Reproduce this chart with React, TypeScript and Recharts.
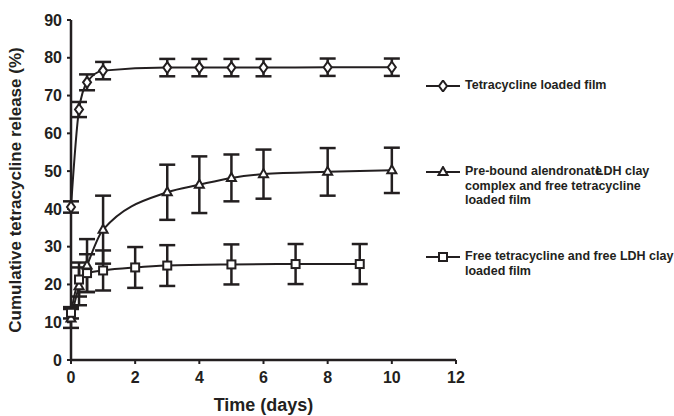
import React from "react";
import { LineChart, Line, XAxis, YAxis, ErrorBar } from "recharts";

const INK = "#231f20";

// Tetracycline loaded film
const diamondTime = [0, 0.25, 0.5, 1, 3, 4, 5, 6, 8, 10];
const diamondValue = [40.5, 66.3, 73.5, 76.6, 77.4, 77.4, 77.4, 77.4, 77.5, 77.5];
const diamondErr = [1.5, 2.0, 2.1, 2.3, 2.3, 2.3, 2.3, 2.3, 2.3, 2.3];

// Pre-bound alendronate-LDH clay complex and free tetracycline loaded film
const triangleTime = [0, 0.25, 0.5, 1, 3, 4, 5, 6, 8, 10];
const triangleValue = [11, 19.5, 25, 34.5, 44.4, 46.4, 48.2, 49.2, 49.8, 50.2];
const triangleErr = [2.5, 5, 7, 9, 7.3, 7.5, 6.2, 6.5, 6.3, 6];

// Free tetracycline and free LDH clay loaded film
const squareTime = [0, 0.25, 0.5, 1, 2, 3, 5, 7, 9];
const squareValue = [12.5, 21.3, 23, 23.7, 24.5, 25, 25.3, 25.4, 25.4];
const squareErr = [1.5, 4.5, 5, 5.3, 5.4, 5.4, 5.3, 5.3, 5.3];

const xTicks = [0, 2, 4, 6, 8, 10, 12];
const yTicks = [0, 10, 20, 30, 40, 50, 60, 70, 80, 90];

const toRows = (t: number[], v: number[], e: number[]) =>
  t.map((x, i) => ({ t: x, v: v[i], err: e[i] }));

const diamondData = toRows(diamondTime, diamondValue, diamondErr);
const triangleData = toRows(triangleTime, triangleValue, triangleErr);
const squareData = toRows(squareTime, squareValue, squareErr);

const Diamond = (p: any) => {
  const { cx, cy } = p;
  if (cx == null || cy == null) return <g />;
  return (
    <path
      d={`M${cx},${cy - 5.5} L${cx + 4},${cy} L${cx},${cy + 5.5} L${cx - 4},${cy} Z`}
      fill="#fff"
      stroke={INK}
      strokeWidth={2}
    />
  );
};

const Triangle = (p: any) => {
  const { cx, cy } = p;
  if (cx == null || cy == null) return <g />;
  return (
    <path
      d={`M${cx},${cy - 5} L${cx + 4.5},${cy + 3} L${cx - 4.5},${cy + 3} Z`}
      fill="#fff"
      stroke={INK}
      strokeWidth={2}
    />
  );
};

const Square = (p: any) => {
  const { cx, cy } = p;
  if (cx == null || cy == null) return <g />;
  return <rect x={cx - 4} y={cy - 4} width={8} height={8} fill="#fff" stroke={INK} strokeWidth={2} />;
};

const FONT = "'Liberation Sans', Arial, sans-serif";

const legendText: React.CSSProperties = {
  position: "absolute",
  left: 465,
  fontFamily: FONT,
  fontWeight: 700,
  fontSize: 12.5,
  lineHeight: "14.5px",
  color: INK,
  whiteSpace: "nowrap",
};

const LegendIcon = ({ top, kind }: { top: number; kind: "d" | "t" | "s" }) => (
  <svg style={{ position: "absolute", left: 425, top: top - 6 }} width={36} height={12}>
    <line x1={1} y1={6} x2={35} y2={6} stroke={INK} strokeWidth={2} />
    {kind === "d" && <Diamond cx={18} cy={6} />}
    {kind === "t" && <Triangle cx={18} cy={6} />}
    {kind === "s" && <Square cx={18} cy={6} />}
  </svg>
);

export default function App() {
  const tickStyle = { fill: INK, fontSize: 16, fontWeight: 700, fontFamily: FONT };
  return (
    <div style={{ position: "absolute", left: 0, top: 0, width: 674, height: 416, background: "#fff" }}>
      <LineChart width={674} height={416} margin={{ top: 20, right: 218, bottom: 0, left: 11 }}>
        <XAxis
          dataKey="t"
          type="number"
          domain={[0, 12]}
          ticks={xTicks}
          tick={tickStyle}
          tickSize={4}
          tickMargin={8}
          height={56}
          axisLine={{ stroke: INK, strokeWidth: 2.5 }}
          tickLine={{ stroke: INK, strokeWidth: 2 }}
          allowDuplicatedCategory={false}
          label={{
            value: "Time (days)",
            position: "insideBottom",
            offset: 5,
            style: { ...tickStyle, fontSize: 18 },
          }}
        />
        <YAxis
          type="number"
          domain={[0, 90]}
          ticks={yTicks}
          tick={tickStyle}
          tickSize={4}
          tickMargin={5}
          width={60}
          axisLine={{ stroke: INK, strokeWidth: 2.5 }}
          tickLine={{ stroke: INK, strokeWidth: 2 }}
          label={{
            value: "Cumulative tetracycline release (%)",
            angle: -90,
            position: "insideLeft",
            offset: 4,
            style: { ...tickStyle, fontSize: 17, textAnchor: "middle" },
          }}
        />
        <Line
          data={diamondData}
          dataKey="v"
          type="monotone"
          stroke={INK}
          strokeWidth={2}
          dot={Diamond}
          activeDot={false}
          isAnimationActive={false}
        >
          <ErrorBar dataKey="err" direction="y" width={8} stroke={INK} strokeWidth={2.5} isAnimationActive={false} />
        </Line>
        <Line
          data={triangleData}
          dataKey="v"
          type="monotone"
          stroke={INK}
          strokeWidth={2}
          dot={Triangle}
          activeDot={false}
          isAnimationActive={false}
        >
          <ErrorBar dataKey="err" direction="y" width={8} stroke={INK} strokeWidth={2.5} isAnimationActive={false} />
        </Line>
        <Line
          data={squareData}
          dataKey="v"
          type="monotone"
          stroke={INK}
          strokeWidth={2}
          dot={Square}
          activeDot={false}
          isAnimationActive={false}
        >
          <ErrorBar dataKey="err" direction="y" width={8} stroke={INK} strokeWidth={2.5} isAnimationActive={false} />
        </Line>
      </LineChart>

      <LegendIcon top={86} kind="d" />
      <div style={{ ...legendText, top: 78 }}>Tetracycline loaded film</div>

      <LegendIcon top={172} kind="t" />
      <div style={{ ...legendText, top: 164 }}>
        Pre-bound alendronat<span style={{ letterSpacing: -6 }}>e</span>LDH clay
        <br />
        complex and free tetracycline
        <br />
        loaded film
      </div>

      <LegendIcon top={257} kind="s" />
      <div style={{ ...legendText, top: 249 }}>
        Free tetracycline and free LDH clay
        <br />
        loaded film
      </div>
    </div>
  );
}
